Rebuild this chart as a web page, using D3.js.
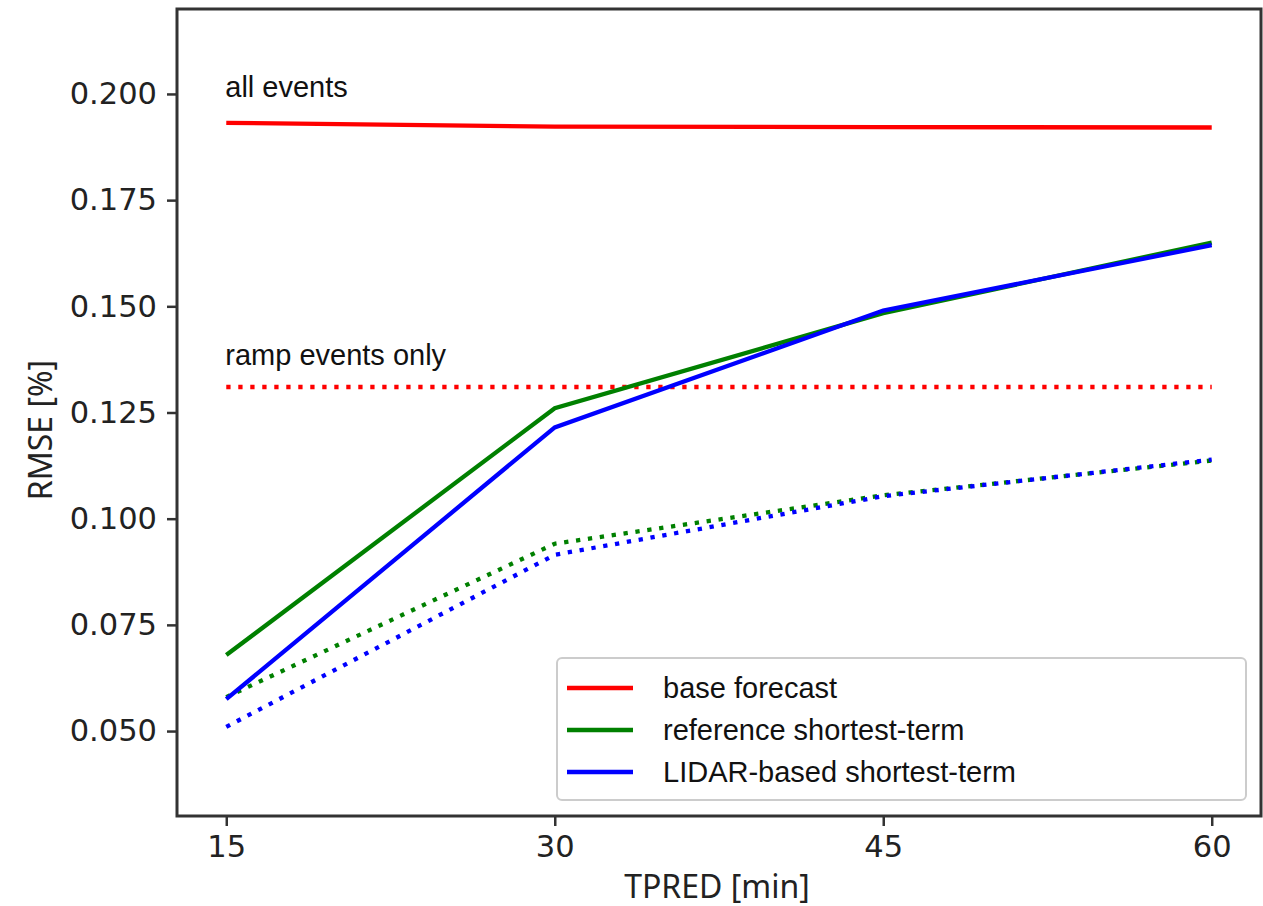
<!DOCTYPE html>
<html>
<head>
<meta charset="utf-8">
<script src="https://cdn.jsdelivr.net/npm/d3@7"></script>
<style>
  body { margin: 0; background: #fff; }
  svg { display: block; }
  .tick text { font-family: "DejaVu Sans", sans-serif; font-size: 30.5px; fill: #222; }
  .note, .legend text { font-family: "Liberation Sans", Arial, sans-serif; fill: #111; }
  .axis-label { font-family: "Noto Sans", "DejaVu Sans", sans-serif; font-size: 32px; fill: #222; }
</style>
</head>
<body>
<svg id="chart" width="1263" height="906"></svg>
<script>
// data
var tpred = [15, 30, 45, 60];
var xTicks = [15, 30, 45, 60];
var yTicks = [0.050, 0.075, 0.100, 0.125, 0.150, 0.175, 0.200];

var baseAll = [0.1932, 0.1923, 0.1922, 0.1921];
var baseRamp = [0.1310, 0.1310, 0.1310, 0.1310];
var refAll = [0.0679, 0.1260, 0.1484, 0.1650];
var refRamp = [0.0580, 0.0941, 0.1055, 0.1137];
var lidarAll = [0.0575, 0.1215, 0.1490, 0.1644];
var lidarRamp = [0.0510, 0.0915, 0.1053, 0.1139];

var legendLabels = ['base forecast', 'reference shortest-term', 'LIDAR-based shortest-term'];
var colors = ['#ff0000', '#008000', '#0000ff'];

var svg = d3.select('#chart');
var margin = { left: 177, top: 9, right: 2, bottom: 90 };
var W = 1263, H = 906;

var x = d3.scaleLinear().domain([12.75, 62.25]).range([margin.left, W - margin.right]);
var y = d3.scaleLinear().domain([0.03, 0.22]).range([H - margin.bottom, margin.top]);

var series = [
  { values: baseAll, color: colors[0], dotted: false },
  { values: baseRamp, color: colors[0], dotted: true },
  { values: refAll, color: colors[1], dotted: false },
  { values: refRamp, color: colors[1], dotted: true },
  { values: lidarAll, color: colors[2], dotted: false },
  { values: lidarRamp, color: colors[2], dotted: true }
];

var line = d3.line()
  .x(function(d, i) { return x(tpred[i]); })
  .y(function(d) { return y(d); });

svg.append('g').selectAll('path')
  .data(series)
  .enter().append('path')
  .attr('d', function(s) { return line(s.values); })
  .attr('fill', 'none')
  .attr('stroke', function(s) { return s.color; })
  .attr('stroke-width', 4.3)
  .attr('stroke-dasharray', function(s) { return s.dotted ? '4.3,7.7' : null; });

// annotations
svg.append('text').attr('class', 'note')
  .attr('x', x(15) - 1).attr('y', 97)
  .style('font-size', '29px')
  .text('all events');
svg.append('text').attr('class', 'note')
  .attr('x', x(15) - 1).attr('y', 365)
  .style('font-size', '29px')
  .text('ramp events only');

// axes
var xAxis = svg.append('g')
  .attr('transform', 'translate(0,' + (H - margin.bottom) + ')')
  .call(d3.axisBottom(x).tickValues(xTicks).tickSize(10).tickPadding(9).tickFormat(d3.format('d')));
var yAxis = svg.append('g')
  .attr('transform', 'translate(' + margin.left + ',0)')
  .call(d3.axisLeft(y).tickValues(yTicks).tickSize(10).tickPadding(10).tickFormat(d3.format('.3f')));

[xAxis, yAxis].forEach(function(a) {
  a.select('.domain').remove();
  a.selectAll('.tick line').attr('stroke', '#333').attr('stroke-width', 2.5);
});

// frame
svg.append('rect')
  .attr('x', margin.left).attr('y', margin.top)
  .attr('width', W - margin.right - margin.left)
  .attr('height', H - margin.bottom - margin.top)
  .attr('fill', 'none').attr('stroke', '#333').attr('stroke-width', 3);

svg.append('text').attr('class', 'axis-label')
  .attr('x', 717).attr('y', 898)
  .attr('text-anchor', 'middle')
  .text('TPRED [min]');
svg.append('text').attr('class', 'axis-label')
  .attr('transform', 'translate(52,430) rotate(-90)')
  .attr('text-anchor', 'middle')
  .text('RMSE [%]');

// legend
var legend = svg.append('g').attr('class', 'legend').attr('transform', 'translate(557,658)');
legend.append('rect')
  .attr('width', 689).attr('height', 142).attr('rx', 5)
  .attr('fill', '#fff').attr('stroke', '#ccc').attr('stroke-width', 2);
var item = legend.selectAll('g.item')
  .data(legendLabels)
  .enter().append('g').attr('class', 'item')
  .attr('transform', function(d, i) { return 'translate(0,' + (30 + i * 42) + ')'; });
item.append('line')
  .attr('x1', 10).attr('x2', 76)
  .attr('stroke', function(d, i) { return colors[i]; })
  .attr('stroke-width', 4.3);
item.append('text')
  .attr('x', 106).attr('y', 10)
  .style('font-size', '29px')
  .text(function(d) { return d; });
</script>
</body>
</html>
